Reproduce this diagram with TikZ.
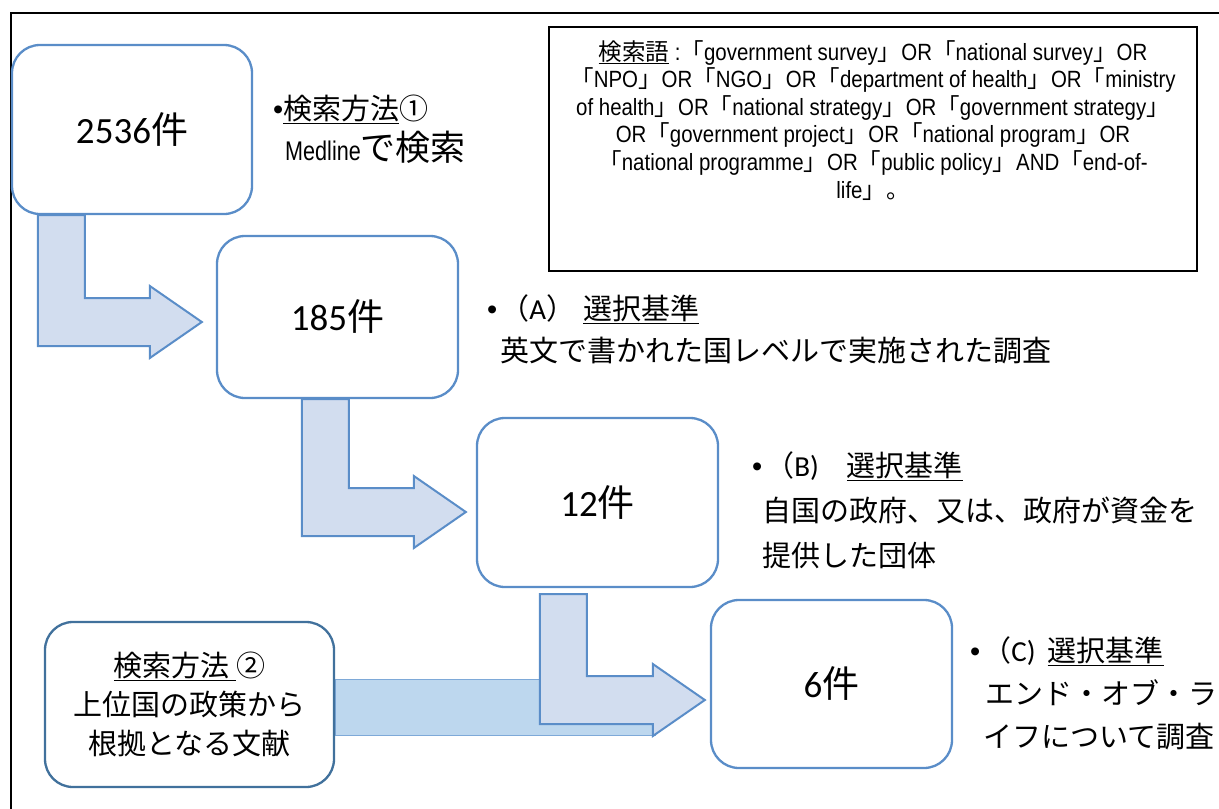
\documentclass[tikz,border=0pt]{standalone}
\usepackage{fontspec}
\setmainfont{Carlito}
\newfontfamily\cjk{Noto Sans CJK JP}
\newfontfamily\arial{Liberation Sans}
\newfontfamily\calib{Carlito}
\newfontfamily\narrow[FakeStretch=0.87]{Liberation Sans}
\newfontfamily\narrowb[FakeStretch=0.8]{Liberation Sans}
\usetikzlibrary{calc}
\pgfdeclarelayer{bg}
\pgfsetlayers{bg,main}
\definecolor{boxblue}{HTML}{5A8DC8}
\definecolor{darkblue}{HTML}{41719C}
\definecolor{arrfill}{HTML}{D2DDEF}
\definecolor{barfill}{HTML}{BDD7EE}
\definecolor{barline}{HTML}{7EA9D8}
\newcommand\Lb{{\cjk 「}}
\newcommand\Rb{{\cjk 」}}
\tikzset{
  box/.style={draw=boxblue, line width=2.3pt, rounded corners=28pt, fill=white, inner sep=0pt},
  cnt/.style={font=\fontsize{37}{42}\selectfont},
  barrow/.style={draw=boxblue, line width=2pt, fill=arrfill, line join=miter},
  bar/.style={draw=barline, line width=1.2pt, fill=barfill},
  jt/.style={font=\cjk\fontsize{29}{35}\selectfont, anchor=base west, inner sep=0pt},
}
\begin{document}
\begin{tikzpicture}[x=1pt,y=-1pt]
\useasboundingbox (0,0) rectangle (1219,809);
% outer frame (cropped)
\draw[line width=2pt] (11,830) -- (11,13) -- (1240,13);

% boxes
\node[box, cnt, minimum width=240pt, minimum height=169pt] (b1) at (132,129.5) {2536{\cjk 件}};
\node[box, cnt, minimum width=241pt, minimum height=162pt] (b2) at (337.5,317) {185{\cjk 件}};
\node[box, cnt, minimum width=241pt, minimum height=169pt] (b3) at (597.5,502.5) {12{\cjk 件}};
\node[box, cnt, minimum width=241pt, minimum height=168pt] (b4) at (831.5,684) {6{\cjk 件}};
\node[box, draw=darkblue, minimum width=289pt, minimum height=165pt, align=center,
      font=\cjk\fontsize{29}{39}\selectfont] (b5) at (189.5,704.5)
      {\underline{検索方法\ }②\\上位国の政策から\\根拠となる文献};

% search terms box
\node[draw=black, line width=1.6pt, minimum width=648pt, minimum height=244pt, inner sep=0pt] (q) at (873,149) {};
\node[anchor=north, align=center, inner sep=0pt, font=\narrow\fontsize{23.5}{27.6}\selectfont] (qt) at (873,40)
 {{\cjk\underline{検索語}} :\Lb government survey\Rb OR\Lb national survey\Rb OR\\
  \Lb NPO\Rb OR\Lb NGO\Rb OR\Lb department of health\Rb OR\Lb ministry\\
  of health\Rb OR\Lb national strategy\Rb OR\Lb government strategy\Rb\\
  OR\Lb government project\Rb OR\Lb national program\Rb OR\\
  \Lb national programme\Rb OR\Lb public policy\Rb AND\Lb end-of-\\
  life\Rb{\cjk 。}};

% side texts
\node[jt] (m1) at (273,119) {{\arial •}\underline{検索方法}①};
\node[anchor=base west, inner sep=0pt] (m2) at (285,160) {{\narrowb\fontsize{27}{30}\selectfont Medline}{\cjk\fontsize{35}{40}\selectfont で検索}};

\node[jt] (a1) at (487,319) {{\arial •}\hspace{3pt}（{\calib A}）\hspace{8pt}\underline{選択基準}};
\node[jt] (a2) at (500,361) {英文で書かれた国レベルで実施された調査};

\node[jt] (c1) at (752,476) {{\arial •}\hspace{3pt}（{\calib B)}\hspace{28pt}\underline{選択基準}};
\node[jt] (c2) at (762,521) {自国の政府、又は、政府が資金を};
\node[jt] (c3) at (762,566) {提供した団体};

\node[jt] (d1) at (970,661) {{\arial •}\hspace{2pt}（{\calib C)}\hspace{12pt}\underline{選択基準}};
\node[jt] (d2) at (985,704) {エンド・オブ・ラ};
\node[jt] (d3) at (983,747) {イフについて調査};

% arrows
\coordinate (s1) at ([shift={(27,0)}]b1.south west);
\coordinate (t1) at ([shift={(-14,5)}]b2.west);
\coordinate (s2) at ([shift={(86,0)}]b2.south west);
\coordinate (t2) at ([shift={(-10,9.5)}]b3.west);
\coordinate (s3) at ([shift={(64,6)}]b3.south west);
\coordinate (t3) at ([shift={(-5,16)}]b4.west);
\begin{pgfonlayer}{bg}
\draw[bar] ([shift={(0,-25)}]b5.east) rectangle ([shift={(320,31)}]b5.east);
\foreach \s/\t in {s1/t1,s2/t2,s3/t3}{
  \draw[barrow] (\s) -- ++(47,0) |- ([shift={(-52,-24)}]\t) -- ++(0,-12) -- (\t)
     -- ++(-52,36) -- ++(0,-12) -- ($(\s |- \t)+(0,24)$) -- cycle;
}
\end{pgfonlayer}
\end{tikzpicture}
\end{document}
